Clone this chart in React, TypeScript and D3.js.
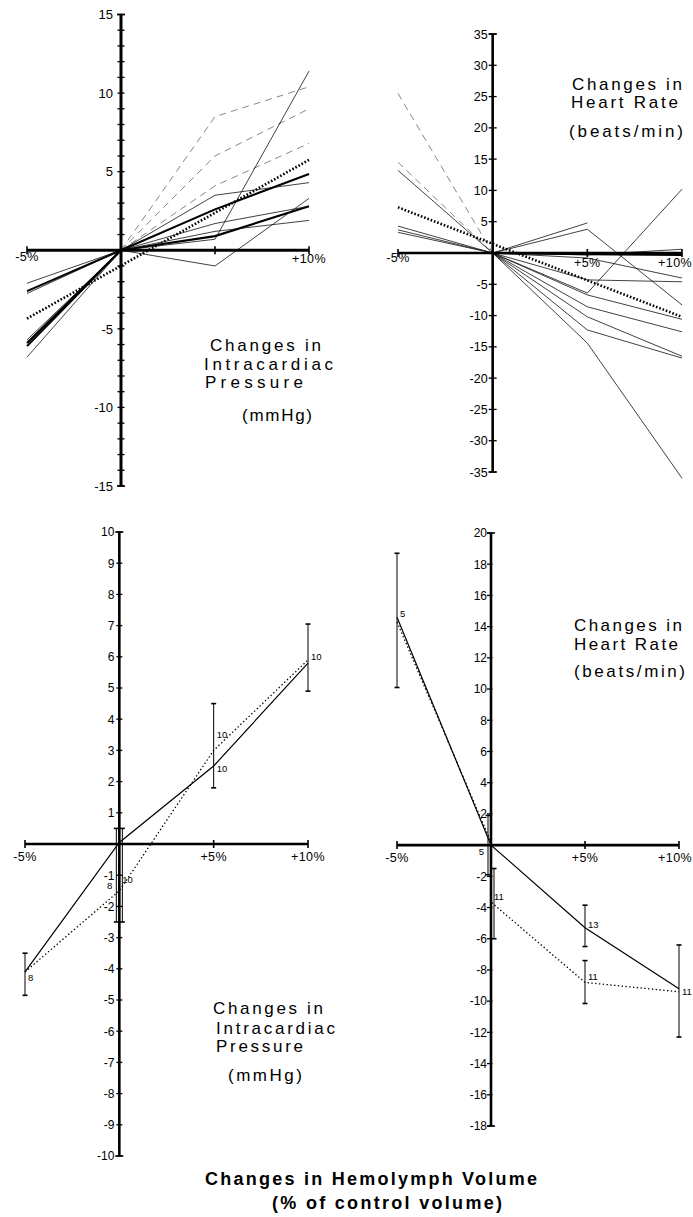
import React from "react";
import * as d3 from "d3";

const FONT = '"Liberation Sans", Arial, Helvetica, sans-serif';

// ---------- DATA ----------
const xLevels = [-5, 0, 5, 10];

// Top-left: individual preparations, intracardiac pressure (mmHg)
const tlLeftAtMinus5 = [-2.1, -2.6, -2.75, -5.7, -5.9, -6.1, -6.8];
const tlLeftKind = ["thin", "thick", "thin", "thin", "thick", "thick", "thin"];
const tlRightAt5 = [8.5, 6.0, 4.1, 3.5, 2.6, 0.9, 1.2, 0.7, -1.0, 1.7];
const tlRightAt10 = [10.4, 9.0, 6.8, 4.3, 4.85, 2.8, 1.9, 11.4, 3.3, 2.8];
const tlRightKind = ["faint", "faint", "faint", "thin", "thick", "thick", "thin", "thin", "thin", "thin"];
const tlTrend = [-4.35, 5.75]; // at -5% and +10%
const tlTickLabels = [15, 10, 5, -5, -10, -15];

// Top-right: individual preparations, heart rate (beats/min)
const trLeftAtMinus5 = [25.5, 14.5, 13.2, 4.3, 3.7, 3.3];
const trLeftKind = ["faint", "faint", "thin", "thin", "thin", "thin"];
const trRightAt5 = [4.8, 3.8, -6.4, -0.3, -0.2, -4.3, -0.8, -6.7, -8.6, -10.2, -12.3, -14.4];
const trRightAt10 = [null, -8.3, 10.2, 0.6, -0.3, -4.6, -4.0, -10.6, -12.6, -16.5, -16.8, -36];
const trRightKind = ["thin", "thin", "thin", "thin", "thick", "thin", "thin", "thin", "thin", "thin", "thin", "thin"];
const trTrend = [7.3, -10.2];
const trTickLabels = [35, 30, 25, 20, 15, 10, 5, -5, -10, -15, -20, -25, -30, -35];

// Bottom-left: mean pressure
const blSolid = [-4.1, 0.05, 2.5, 5.8];
const blDotted = [-4.1, -1.5, 3.0, 5.9];
const blErrX = [-5, 0, 0, 5, 10];
const blErrSeries = ["solid", "solid", "dotted", "solid", "solid"];
const blErrHi = [-3.5, 0.5, 0.5, 4.5, 7.05];
const blErrLo = [-4.85, -2.5, -2.5, 1.8, 4.9];
const blNX = [-5, 0, 0, 5, 5, 10];
const blNY = [-4.3, -1.15, -1.35, 3.5, 2.4, 6.0];
const blNText = ["8", "10", "8", "10", "10", "10"];
const blNSide = ["r", "r", "l", "r", "r", "r"];
const blTickLabels = [10, 9, 8, 7, 6, 5, 4, 3, 2, 1, -1, -2, -3, -4, -5, -6, -7, -8, -9, -10];

// Bottom-right: mean heart rate
const brSolid = [14.6, 0, -5.3, -9.2];
const brDottedX = [-5, 0, 0, 5, 10];
const brDotted = [14.3, 0.2, -3.65, -8.8, -9.4];
const brErrX = [-5, 0, 0, 5, 5, 10];
const brErrSeries = ["solid", "solid", "dotted", "solid", "dotted", "solid"];
const brErrHi = [18.7, 1.9, -1.5, -3.85, -7.4, -6.4];
const brErrLo = [10.1, -1.9, -6.0, -6.5, -10.15, -12.3];
const brNX = [-5, 0, 0, 5, 5, 10];
const brNY = [14.8, -0.4, -3.3, -5.1, -8.4, -9.4];
const brNText = ["5", "5", "11", "13", "11", "11"];
const brNSide = ["r", "l", "r", "r", "r", "r"];
const brTickLabels = [20, 18, 16, 14, 12, 10, 8, 6, 4, 2, -2, -4, -6, -8, -10, -12, -14, -16, -18];

// ---------- SCALES ----------
const tlX = d3.scaleLinear().domain([-5, 10]).range([27, 309]);
const tlY = d3.scaleLinear().domain([-15, 15]).range([486, 14.5]);
const trX = d3.scaleLinear().domain([-5, 10]).range([398, 682]);
const trY = d3.scaleLinear().domain([-35, 35]).range([472, 34]);
const blX = d3.scaleLinear().domain([-5, 10]).range([25, 308]);
const blY = d3.scaleLinear().domain([-10, 10]).range([1156, 532]);
const brX = d3.scaleLinear().domain([-5, 10]).range([397, 679]);
const brY = d3.scaleLinear().domain([-18, 20]).range([1126, 533]);

type Sc = d3.ScaleLinear<number, number>;

function styleOf(kind: string) {
  if (kind === "thick") return { stroke: "#000", strokeWidth: 2.1 };
  if (kind === "faint") return { stroke: "#6a6a6a", strokeWidth: 0.8, strokeDasharray: "7 5" };
  return { stroke: "#111", strokeWidth: 0.8 };
}

function path(x: Sc, y: Sc, pts: [number, number | null][]) {
  const g = d3
    .line<[number, number | null]>()
    .defined((d) => d[1] !== null && d[1] !== undefined)
    .x((d) => x(d[0]))
    .y((d) => y(d[1] as number));
  return g(pts) || "";
}

function Axes(props: {
  x: Sc; y: Sc; yMin: number; yMax: number; ticks: number[]; labels: number[];
  tl: number; tr: number; gap: number; fs: number; aw: number; xTicks: number[];
  xLabels: { v: number; t: string; b: number; end?: number }[];
}) {
  const { x, y, yMin, yMax, ticks, labels, tl, tr, gap, fs, aw, xTicks, xLabels } = props;
  const x0 = x(0);
  const y0 = y(0);
  return (
    <g>
      <line x1={x(-5)} x2={x(10)} y1={y0} y2={y0} stroke="#000" strokeWidth={aw} />
      {xTicks.map((v) => (
        <line key={"xt" + v} x1={x(v)} x2={x(v)} y1={y0 - 4} y2={y0 + 4} stroke="#000" strokeWidth={1.6} />
      ))}
      <line x1={x0} x2={x0} y1={y(yMax)} y2={y(yMin)} stroke="#000" strokeWidth={aw} />
      <line x1={x0 - 4} x2={x0 + 4} y1={y(yMax)} y2={y(yMax)} stroke="#000" strokeWidth={1.6} />
      <line x1={x0 - 4} x2={x0 + 4} y1={y(yMin)} y2={y(yMin)} stroke="#000" strokeWidth={1.6} />
      {ticks.map((v) => (
        <line key={"yt" + v} x1={x0 - tl} x2={x0 + tr} y1={y(v)} y2={y(v)} stroke="#000" strokeWidth={1.3} />
      ))}
      {labels.map((v) => (
        <text key={"yl" + v} x={x0 - gap} y={y(v)} dy="0.36em" textAnchor="end" fontSize={fs} fontFamily={FONT} fill="#000">
          {v}
        </text>
      ))}
      {xLabels.map((l) => (
        <text
          key={"xl" + l.t}
          x={l.end !== undefined ? l.end : x(l.v)}
          y={l.b}
          textAnchor={l.end !== undefined ? "end" : "middle"}
          fontSize={12.5}
          fontFamily={FONT}
          letterSpacing={0.4}
          fill="#000"
        >
          {l.t}
        </text>
      ))}
    </g>
  );
}

function Label(props: { x: number; y: number; w: number; t: string; fs?: number; bold?: boolean }) {
  return (
    <text
      x={props.x}
      y={props.y}
      textLength={props.w}
      lengthAdjust="spacing"
      fontSize={props.fs || 17}
      fontWeight={props.bold ? 700 : 400}
      fontFamily={FONT}
      fill="#000"
    >
      {props.t}
    </text>
  );
}

function ErrBars(props: { x: Sc; y: Sc; xs: number[]; hi: number[]; lo: number[]; series: string[] }) {
  const { x, y, xs, hi, lo, series } = props;
  return (
    <g>
      {xs.map((v, i) => {
        const shared = xs.filter((w) => w === v).length > 1 && v === 0;
        const px = x(v) + (shared ? (series[i] === "solid" ? -3 : 3) : 0);
        return (
          <g key={i}>
            <line x1={px} x2={px} y1={y(hi[i])} y2={y(lo[i])} stroke="#000" strokeWidth={1} />
            <line x1={px - 2.5} x2={px + 2.5} y1={y(hi[i])} y2={y(hi[i])} stroke="#000" strokeWidth={1.6} />
            <line x1={px - 2.5} x2={px + 2.5} y1={y(lo[i])} y2={y(lo[i])} stroke="#000" strokeWidth={1.6} />
          </g>
        );
      })}
    </g>
  );
}

function NLabels(props: { x: Sc; y: Sc; xs: number[]; ys: number[]; t: string[]; side: string[] }) {
  const { x, y, xs, ys, t, side } = props;
  return (
    <g>
      {xs.map((v, i) => (
        <text
          key={i}
          x={x(v) + (side[i] === "l" ? -7 : 3)}
          y={y(ys[i])}
          dy="0.35em"
          textAnchor={side[i] === "l" ? "end" : "start"}
          fontSize={9.5}
          fontFamily={FONT}
          fill="#000"
        >
          {t[i]}
        </text>
      ))}
    </g>
  );
}

export default function App() {
  const trendStyle = { stroke: "#000", strokeWidth: 2.6, strokeDasharray: "1.6 1.9", fill: "none" };
  const dotStyle = { stroke: "#000", strokeWidth: 1.3, strokeDasharray: "1.4 2.4", fill: "none" };
  return (
    <svg
      width={693}
      height={1217}
      viewBox="0 0 693 1217"
      style={{ position: "absolute", left: 0, top: 0, background: "#fff", display: "block" }}
    >
      <rect x={0} y={0} width={693} height={1217} fill="#fff" />

      {/* ---------- Top-left ---------- */}
      <g fill="none">
        {tlLeftAtMinus5.map((v, i) => (
          <path key={"tll" + i} d={path(tlX, tlY, [[-5, v], [0, 0]])} {...styleOf(tlLeftKind[i])} fill="none" />
        ))}
        {tlRightAt5.map((v, i) => (
          <path key={"tlr" + i} d={path(tlX, tlY, [[0, 0], [5, v], [10, tlRightAt10[i]]])} {...styleOf(tlRightKind[i])} fill="none" />
        ))}
        <path d={path(tlX, tlY, [[-5, tlTrend[0]], [10, tlTrend[1]]])} {...trendStyle} />
      </g>
      <Axes
        x={tlX} y={tlY} yMin={-15} yMax={15}
        ticks={d3.range(-15, 16)} labels={tlTickLabels}
        tl={3.5} tr={3.5} gap={8} fs={13} aw={3}
        xTicks={[-5, 5, 10]}
        xLabels={[{ v: -5, t: "-5%", b: 261 }, { v: 10, t: "+10%", b: 263 }]}
      />
      <Label x={210} y={350.5} w={111} t="Changes in" />
      <Label x={204} y={369.5} w={129} t="Intracardiac" />
      <Label x={205} y={388} w={98} t="Pressure" />
      <Label x={242} y={421} w={70} t="(mmHg)" />

      {/* ---------- Top-right ---------- */}
      <g fill="none">
        {trLeftAtMinus5.map((v, i) => (
          <path key={"trl" + i} d={path(trX, trY, [[-5, v], [0, 0]])} {...styleOf(trLeftKind[i])} fill="none" />
        ))}
        {trRightAt5.map((v, i) => (
          <path key={"trr" + i} d={path(trX, trY, [[0, 0], [5, v], [10, trRightAt10[i]]])} {...styleOf(trRightKind[i])} fill="none" />
        ))}
        <path d={path(trX, trY, [[-5, trTrend[0]], [10, trTrend[1]]])} {...trendStyle} />
      </g>
      <Axes
        x={trX} y={trY} yMin={-35} yMax={35}
        ticks={d3.range(-35, 36, 5)} labels={trTickLabels}
        tl={4} tr={4} gap={5} fs={12.5} aw={2.6}
        xTicks={[-5, 5, 10]}
        xLabels={[{ v: -5, t: "-5%", b: 262 }, { v: 5, t: "+5%", b: 267 }, { v: 10, t: "+10%", b: 267, end: 692 }]}
      />
      <Label x={572} y={90} w={110} t="Changes in" />
      <Label x={571} y={108} w={107} t="Heart Rate" />
      <Label x={569} y={137} w={114} t="(beats/min)" />

      {/* ---------- Bottom-left ---------- */}
      <ErrBars x={blX} y={blY} xs={blErrX} hi={blErrHi} lo={blErrLo} series={blErrSeries} />
      <path d={path(blX, blY, xLevels.map((v, i) => [v, blSolid[i]] as [number, number]))} stroke="#000" strokeWidth={1.2} fill="none" />
      <path d={path(blX, blY, xLevels.map((v, i) => [v, blDotted[i]] as [number, number]))} {...dotStyle} />
      <Axes
        x={blX} y={blY} yMin={-10} yMax={10}
        ticks={d3.range(-10, 11)} labels={blTickLabels}
        tl={3} tr={3} gap={5} fs={12} aw={2.6}
        xTicks={[-5, 5, 10]}
        xLabels={[{ v: -5, t: "-5%", b: 861 }, { v: 5, t: "+5%", b: 861 }, { v: 10, t: "+10%", b: 861 }]}
      />
      <NLabels x={blX} y={blY} xs={blNX} ys={blNY} t={blNText} side={blNSide} />
      <Label x={213} y={1014} w={110} t="Changes in" />
      <Label x={216} y={1034} w={119} t="Intracardiac" />
      <Label x={216} y={1052} w={87} t="Pressure" />
      <Label x={228} y={1081} w={74} t="(mmHg)" />

      {/* ---------- Bottom-right ---------- */}
      <ErrBars x={brX} y={brY} xs={brErrX} hi={brErrHi} lo={brErrLo} series={brErrSeries} />
      <path d={path(brX, brY, xLevels.map((v, i) => [v, brSolid[i]] as [number, number]))} stroke="#000" strokeWidth={1.2} fill="none" />
      <path d={path(brX, brY, brDottedX.map((v, i) => [v, brDotted[i]] as [number, number]))} {...dotStyle} />
      <Axes
        x={brX} y={brY} yMin={-18} yMax={20}
        ticks={d3.range(-18, 21, 2)} labels={brTickLabels}
        tl={4} tr={1.5} gap={4} fs={12} aw={2.6}
        xTicks={[-5, 5, 10]}
        xLabels={[{ v: -5, t: "-5%", b: 862 }, { v: 5, t: "+5%", b: 862 }, { v: 10, t: "+10%", b: 862, end: 692 }]}
      />
      <NLabels x={brX} y={brY} xs={brNX} ys={brNY} t={brNText} side={brNSide} />
      <Label x={574} y={631} w={108} t="Changes in" />
      <Label x={574} y={650} w={104} t="Heart Rate" />
      <Label x={574} y={677} w={111} t="(beats/min)" />

      {/* ---------- Common x title ---------- */}
      <Label x={205} y={1185} w={332} t="Changes in Hemolymph Volume" bold fs={18} />
      <Label x={272} y={1209} w={230} t="(% of control volume)" bold fs={18} />
    </svg>
  );
}
